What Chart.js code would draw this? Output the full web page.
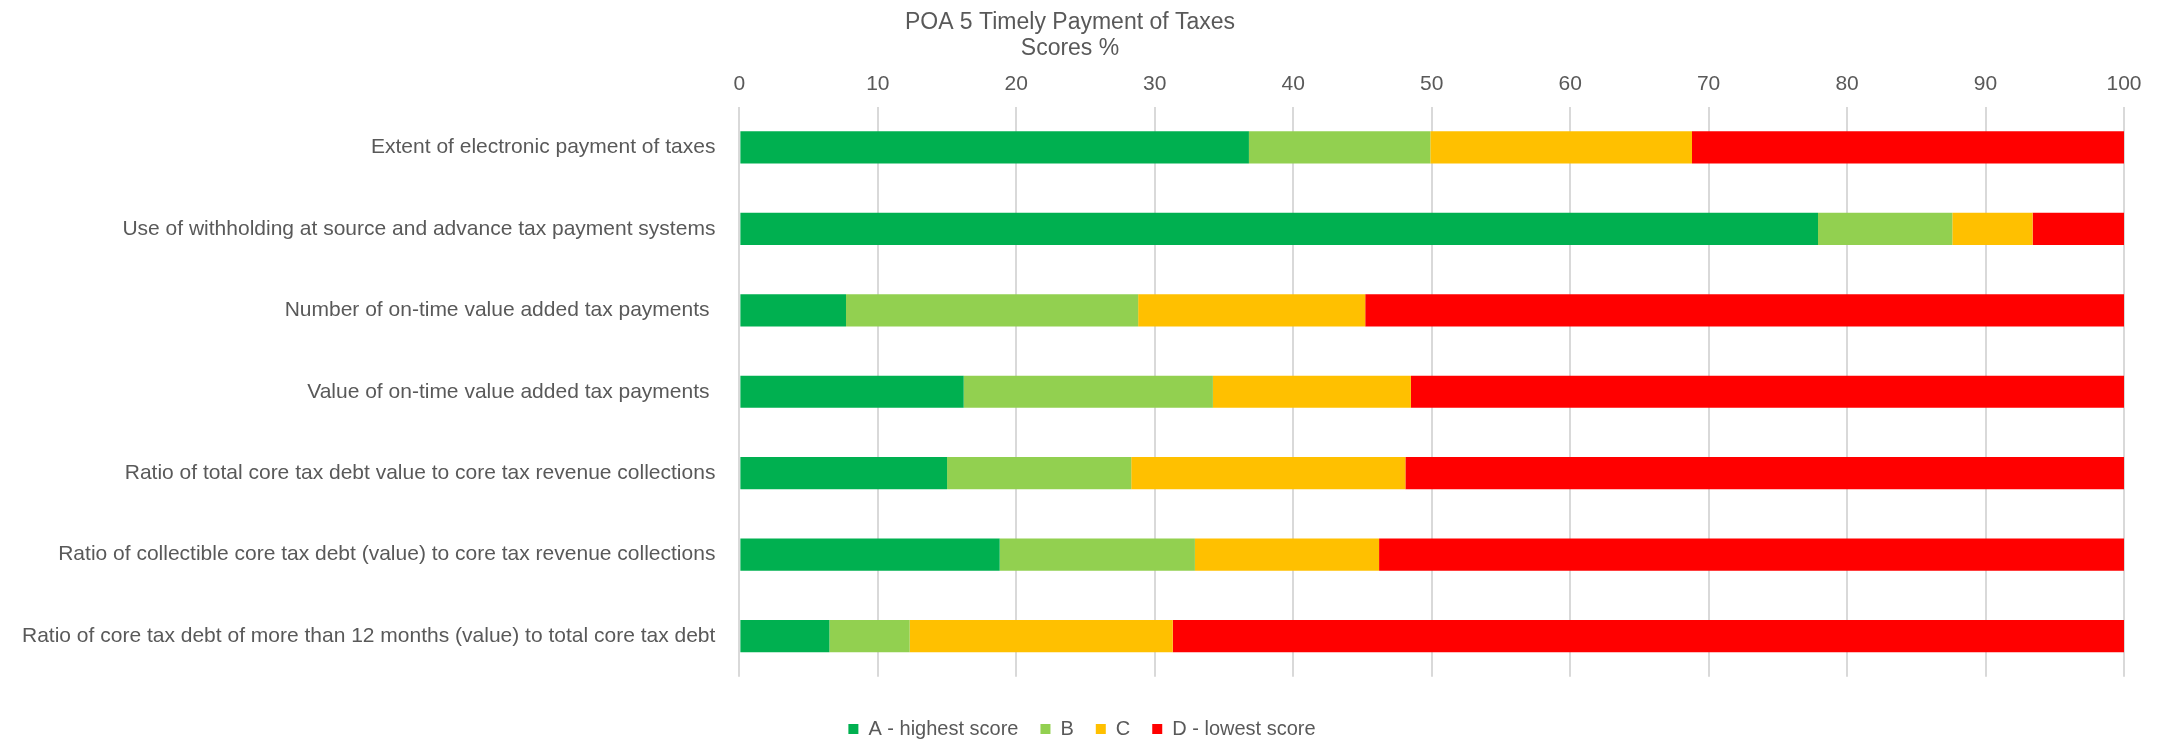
<!DOCTYPE html>
<html>
<head>
<meta charset="utf-8">
<script src="https://cdn.jsdelivr.net/npm/chart.js@4.4.1/dist/chart.umd.min.js"></script>
<style>
    body { margin: 0; background: #fff; }
    #wrap { width: 2164px; height: 741px; }
</style>
</head>
<body>
<div id="wrap"><canvas id="chart" width="2164" height="741"></canvas></div>
<script>
// Indicators (top to bottom)
const categories = [
    'Extent of electronic payment of taxes',
    'Use of withholding at source and advance tax payment systems',
    'Number of on-time value added tax payments ',
    'Value of on-time value added tax payments ',
    'Ratio of total core tax debt value to core tax revenue collections',
    'Ratio of collectible core tax debt (value) to core tax revenue collections',
    'Ratio of core tax debt of more than 12 months (value) to total core tax debt'
];

// Score shares in %
const scoreA = [36.8, 77.9, 7.7, 16.2, 15.0, 18.8, 6.5];
const scoreB = [13.1, 9.7, 21.1, 18.0, 13.3, 14.1, 5.8];
const scoreC = [18.9, 5.8, 16.4, 14.3, 19.8, 13.3, 19.0];
const scoreD = [31.2, 6.6, 54.8, 51.5, 51.9, 53.8, 68.7];

const seriesNames = ['A - highest score', 'B', 'C', 'D - lowest score'];
const seriesColors = ['#00B050', '#92D050', '#FFC000', '#FF0000'];

const textColor = '#595959';
const fontFamily = '"Liberation Sans", Arial, sans-serif';

const datasets = [scoreA, scoreB, scoreC, scoreD].map((vals, i) => ({
    label: seriesNames[i],
    data: vals,
    backgroundColor: seriesColors[i],
    borderWidth: 0,
    barPercentage: 1,
    categoryPercentage: 0.395
}));

// nudge title and legend so they sit centred on the canvas like the original
const centerFix = {
    id: 'centerFix',
    afterLayout(chart) {
        if (chart.legend) { chart.legend.left += 17; chart.legend.right += 17; }
        if (chart.titleBlock) { chart.titleBlock.left += 5; chart.titleBlock.right += 5; }
    }
};

new Chart(document.getElementById('chart'), {
    type: 'bar',
    data: { labels: categories, datasets: datasets },
    plugins: [centerFix],
    options: {
        indexAxis: 'y',
        responsive: false,
        animation: false,
        layout: { padding: { left: 6, right: 40, top: 0, bottom: -8 } },
        plugins: {
            title: {
                display: true,
                text: ['POA 5 Timely Payment of Taxes', 'Scores %'],
                color: textColor,
                font: { family: fontFamily, size: 23, weight: 'normal', lineHeight: 1.12 },
                padding: { top: 10, bottom: 0 }
            },
            legend: {
                position: 'bottom',
                // empty title used as spacer between plot and legend
                title: { display: true, text: '', font: { size: 1 }, padding: { top: 19, bottom: 0 } },
                labels: {
                    color: textColor,
                    boxWidth: 10,
                    boxHeight: 10,
                    padding: 22,
                    font: { family: fontFamily, size: 20 }
                }
            },
            tooltip: { enabled: false }
        },
        scales: {
            x: {
                position: 'top',
                stacked: true,
                min: 0,
                max: 100,
                ticks: {
                    stepSize: 10,
                    color: textColor,
                    padding: 10,
                    font: { family: fontFamily, size: 21 }
                },
                grid: { color: '#D9D9D9', lineWidth: 2, drawTicks: false },
                border: { display: false }
            },
            y: {
                stacked: true,
                ticks: {
                    color: textColor,
                    padding: 16,
                    font: { family: fontFamily, size: 21 }
                },
                grid: { display: false },
                border: { display: false }
            }
        }
    }
});
</script>
</body>
</html>
